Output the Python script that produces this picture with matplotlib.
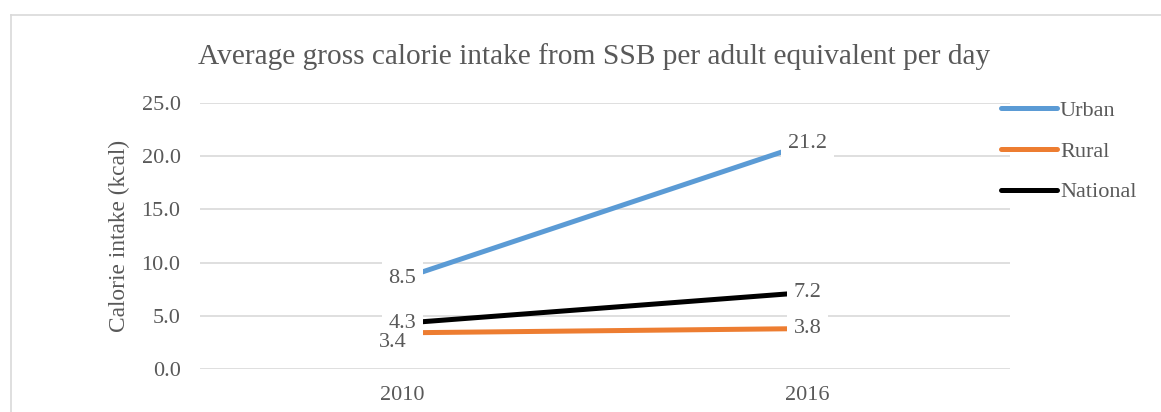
import matplotlib.pyplot as plt
from matplotlib.lines import Line2D

# Data
years = ["2010", "2016"]
urban = [8.5, 21.2]
rural = [3.4, 3.8]
national = [4.3, 7.2]
series_names = ["Urban", "Rural", "National"]

plt.rcParams["font.family"] = ["Liberation Serif", "DejaVu Serif"]
text_color = "#595959"
grid_color = "#d9d9d9"

W, H = 1161, 412
fig = plt.figure(figsize=(W / 100, H / 100), dpi=100)

# plot area (pixel positions)
left, right, top, bottom = 200, 1010, 103, 369
ax = fig.add_axes([left / W, 1 - bottom / H, (right - left) / W, (bottom - top) / H])

x = list(range(len(years)))
colors = ["#5B9BD5", "#ED7D31", "#000000"]
for vals, name, c in zip([urban, rural, national], series_names, colors):
    ax.plot(x, vals, color=c, linewidth=3.6, solid_capstyle="round", label=name, zorder=3)

ax.set_xlim(-0.5, 1.5)
ax.set_ylim(0, 25)
ax.set_yticks([0, 5, 10, 15, 20, 25])
ax.set_yticklabels([f"{v:.1f}" for v in [0, 5, 10, 15, 20, 25]])
ax.set_xticks(x)
ax.set_xticklabels(years)
ax.grid(axis="y", color=grid_color, linewidth=1.2, zorder=0)
ax.set_axisbelow(True)
for s in ax.spines.values():
    s.set_visible(False)
ax.tick_params(axis="both", length=0, labelsize=16, labelcolor=text_color)
ax.tick_params(axis="y", pad=14)
ax.tick_params(axis="x", pad=12)

# data labels with white boxes
box = dict(boxstyle="square,pad=0.3", facecolor="white", edgecolor="none")
offsets = {
    "Urban": [(0, 0), (0, 0)],
    "Rural": [(-7, -7), (0, 0)],
    "National": [(0, 0), (0, 0)],
}
for vals, name in zip([urban, rural, national], series_names):
    for i, v in enumerate(vals):
        # the 2010 rural label sits under the national one, drawn without a box
        shifted = offsets[name][i] != (0, 0)
        ax.annotate(f"{v:.1f}", (x[i], v), xytext=offsets[name][i], textcoords="offset points",
                    ha="center", va="center", fontsize=16, color=text_color,
                    bbox=None if shifted else box, zorder=6 if shifted else 4)

# legend
fig.legend(loc="center left", bbox_to_anchor=(1001 / W, 1 - 151.5 / H), frameon=False,
           fontsize=16, handlelength=2.5, handletextpad=0.15, labelspacing=0.9,
           borderpad=0, borderaxespad=0, labelcolor=text_color)

# title and y label
fig.text(594 / W, 1 - 57 / H, "Average gross calorie intake from SSB per adult equivalent per day",
         ha="center", va="center", fontsize=21.2, color=text_color)
fig.text(119 / W, 1 - 236 / H, "Calorie intake (kcal)", rotation=90,
         ha="center", va="center", fontsize=16.8, color=text_color)

# chart border (top and left edges visible)
fig.add_artist(Line2D([11 / W, 11 / W], [0, 1 - 15 / H], color=grid_color, linewidth=1.2))
fig.add_artist(Line2D([11 / W, 1], [1 - 15 / H, 1 - 15 / H], color=grid_color, linewidth=1.2))

plt.savefig("out.png", dpi=100)
